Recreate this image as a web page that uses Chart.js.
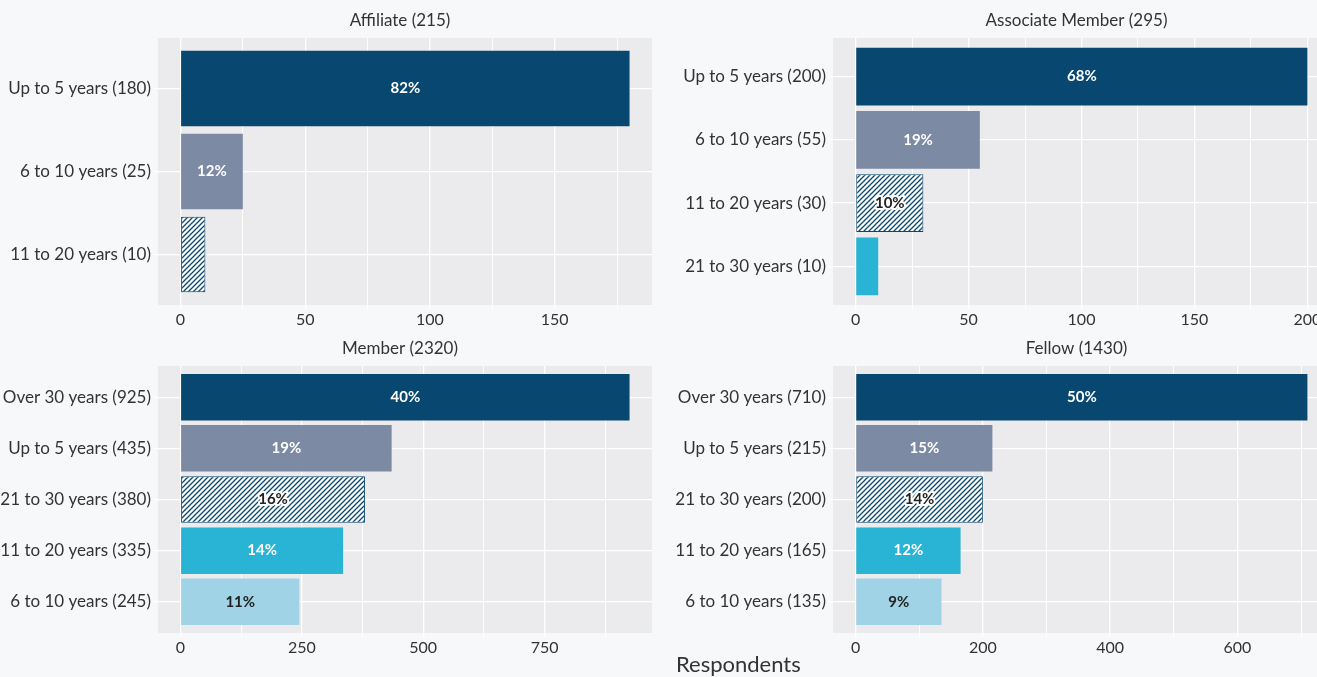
<!DOCTYPE html>
<html>
<head>
<meta charset="utf-8">
<title>Years of membership by grade</title>
<script src="https://cdn.jsdelivr.net/npm/chart.js@4.4.1/dist/chart.umd.min.js"></script>
<style>
    html, body { margin: 0; padding: 0; background: #f7f8fa; overflow: hidden; }
    body { width: 1317px; height: 677px; position: relative; font-family: Lato, sans-serif; }
    canvas { position: absolute; }
    #xtitle { position: absolute; left: 676px; top: 653px; font-size: 22px; line-height: 22px; color: #333; }
</style>
</head>
<body>
<canvas id="affiliate" width="660" height="340" style="left:0;top:0"></canvas>
<canvas id="associate" width="675" height="340" style="left:675px;top:0"></canvas>
<canvas id="member" width="660" height="337" style="left:0;top:340px"></canvas>
<canvas id="fellow" width="675" height="337" style="left:675px;top:340px"></canvas>
<div id="xtitle">Respondents</div>

<script>
// Panel data

const AFFILIATE_TITLE = 'Affiliate (215)';
const AFFILIATE_CATS = ['Up to 5 years (180)', '6 to 10 years (25)', '11 to 20 years (10)'];
const AFFILIATE_VALUES = [180, 25, 10];
const AFFILIATE_PCT = ['82%', '12%', null];
const AFFILIATE_TICKS = [0, 50, 100, 150];
const AFFILIATE_MINOR = [25, 75, 125, 175];

const ASSOCIATE_TITLE = 'Associate Member (295)';
const ASSOCIATE_CATS = ['Up to 5 years (200)', '6 to 10 years (55)', '11 to 20 years (30)', '21 to 30 years (10)'];
const ASSOCIATE_VALUES = [200, 55, 30, 10];
const ASSOCIATE_PCT = ['68%', '19%', '10%', null];
const ASSOCIATE_TICKS = [0, 50, 100, 150, 200];
const ASSOCIATE_MINOR = [25, 75, 125, 175];

const MEMBER_TITLE = 'Member (2320)';
const MEMBER_CATS = ['Over 30 years (925)', 'Up to 5 years (435)', '21 to 30 years (380)', '11 to 20 years (335)', '6 to 10 years (245)'];
const MEMBER_VALUES = [925, 435, 380, 335, 245];
const MEMBER_PCT = ['40%', '19%', '16%', '14%', '11%'];
const MEMBER_TICKS = [0, 250, 500, 750];
const MEMBER_MINOR = [125, 375, 625, 875];

const FELLOW_TITLE = 'Fellow (1430)';
const FELLOW_CATS = ['Over 30 years (710)', 'Up to 5 years (215)', '21 to 30 years (200)', '11 to 20 years (165)', '6 to 10 years (135)'];
const FELLOW_VALUES = [710, 215, 200, 165, 135];
const FELLOW_PCT = ['50%', '15%', '14%', '12%', '9%'];
const FELLOW_TICKS = [0, 200, 400, 600];
const FELLOW_MINOR = [100, 300, 500, 700];

const COLORS = {
    navy: '#08476f',
    slate: '#7d8aa4',
    cyan: '#29b3d4',
    light: '#a1d3e6',
    panel: '#ebebed',
    grid: '#ffffff',
    text: '#333333',
    dark: '#222222'
};

// white background with thin navy diagonals
function makeHatch(ctx) {
    const c = document.createElement('canvas');
    c.width = c.height = 5;
    const g = c.getContext('2d');
    g.fillStyle = '#ffffff';
    g.fillRect(0, 0, 5, 5);
    g.strokeStyle = COLORS.navy;
    g.lineWidth = 1.3;
    g.beginPath();
    g.moveTo(0, 5); g.lineTo(5, 0);
    g.moveTo(-1, 1); g.lineTo(1, -1);
    g.moveTo(4, 6); g.lineTo(6, 4);
    g.stroke();
    return ctx.createPattern(c, 'repeat');
}

// grey plot panel, panel title and the percentage labels
const panelPlugin = {
    id: 'panel',
    beforeDraw(chart, args, opts) {
        const { ctx, chartArea: a } = chart;
        ctx.save();
        ctx.fillStyle = COLORS.panel;
        ctx.fillRect(a.left, a.top, a.right - a.left, a.bottom - a.top);
        ctx.fillStyle = COLORS.text;
        ctx.font = '17px Lato';
        ctx.textAlign = 'center';
        ctx.textBaseline = 'middle';
        ctx.fillText(opts.title, (a.left + a.right) / 2 - 5, a.top - 17);
        ctx.restore();
    },
    afterDatasetsDraw(chart, args, opts) {
        const ctx = chart.ctx;
        const meta = chart.getDatasetMeta(0);
        ctx.save();
        ctx.font = 'bold 15px Lato';
        ctx.textAlign = 'center';
        ctx.textBaseline = 'middle';
        meta.data.forEach((bar, i) => {
            const label = opts.labels[i];
            if (!label) return;
            const x = (bar.x + bar.base) / 2;
            if (i === 2) {
                ctx.strokeStyle = '#ffffff';
                ctx.lineWidth = 4;
                ctx.lineJoin = 'round';
                ctx.strokeText(label, x, bar.y);
            }
            ctx.fillStyle = (i === 2 || i === 4) ? COLORS.dark : '#ffffff';
            ctx.fillText(label, x, bar.y);
        });
        ctx.restore();
    }
};

function makeChart(id, title, cats, values, pcts, ticks, minor, xmin, xmax, top, axisHeight, right) {
    const ctx = document.getElementById(id).getContext('2d');
    const hatch = makeHatch(ctx);
    const fills = [COLORS.navy, COLORS.slate, hatch, COLORS.cyan, COLORS.light];
    const gridValues = ticks.concat(minor).sort((a, b) => a - b);

    new Chart(ctx, {
        type: 'bar',
        data: {
            datasets: [{
                data: values.map((v, i) => ({ x: v, y: i })),
                backgroundColor: values.map((v, i) => fills[i]),
                borderColor: COLORS.navy,
                borderWidth: values.map((v, i) => i === 2 ? 1 : 0),
                borderSkipped: false,
                barPercentage: 1,
                categoryPercentage: 0.91
            }]
        },
        options: {
            indexAxis: 'y',
            responsive: false,
            animation: false,
            layout: { padding: { top: top, right: right, left: 0, bottom: 0 } },
            plugins: {
                legend: { display: false },
                tooltip: { enabled: false },
                panel: { title: title, labels: pcts }
            },
            scales: {
                x: {
                    type: 'linear',
                    min: xmin,
                    max: xmax,
                    bounds: 'data',
                    afterBuildTicks: scale => { scale.ticks = gridValues.map(v => ({ value: v })); },
                    afterFit: scale => { scale.height = axisHeight; },
                    grid: {
                        color: COLORS.grid,
                        lineWidth: c => (c.tick && minor.includes(c.tick.value)) ? 0.9 : 1.3,
                        tickLength: 4
                    },
                    border: { display: false },
                    ticks: {
                        autoSkip: false,
                        maxRotation: 0,
                        padding: 1,
                        color: COLORS.text,
                        font: { family: 'Lato', size: 16 },
                        callback: v => ticks.includes(v) ? String(v) : ''
                    }
                },
                y: {
                    type: 'linear',
                    reverse: true,
                    offset: false,
                    min: -0.61,
                    max: cats.length - 0.39,
                    bounds: 'data',
                    afterBuildTicks: scale => { scale.ticks = cats.map((c, i) => ({ value: i })); },
                    afterFit: scale => { scale.width = 158; },
                    grid: { offset: false, color: COLORS.grid, lineWidth: 1.3, tickLength: 5 },
                    border: { display: false },
                    ticks: {
                        autoSkip: false,
                        padding: 2,
                        color: COLORS.text,
                        font: { family: 'Lato', size: 17 },
                        callback: v => cats[v]
                    }
                }
            }
        },
        plugins: [panelPlugin]
    });
}

makeChart('affiliate', AFFILIATE_TITLE, AFFILIATE_CATS, AFFILIATE_VALUES, AFFILIATE_PCT,
    AFFILIATE_TICKS, AFFILIATE_MINOR, -9, 189, 38, 35, 8);
makeChart('associate', ASSOCIATE_TITLE, ASSOCIATE_CATS, ASSOCIATE_VALUES, ASSOCIATE_PCT,
    ASSOCIATE_TICKS, ASSOCIATE_MINOR, -10, 210, 38, 35, 20);
makeChart('member', MEMBER_TITLE, MEMBER_CATS, MEMBER_VALUES, MEMBER_PCT,
    MEMBER_TICKS, MEMBER_MINOR, -46.25, 971.25, 26, 44, 8);
makeChart('fellow', FELLOW_TITLE, FELLOW_CATS, FELLOW_VALUES, FELLOW_PCT,
    FELLOW_TICKS, FELLOW_MINOR, -35.5, 745.5, 26, 44, 20);
</script>
</body>
</html>
